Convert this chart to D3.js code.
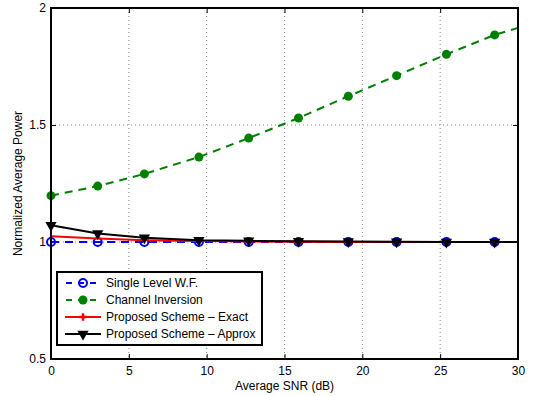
<!DOCTYPE html>
<html>
<head>
<meta charset="utf-8">
<script src="https://cdn.jsdelivr.net/npm/d3@7"></script>
<style>
  body { margin: 0; background: #fff; }
  text { font-family: "Liberation Sans", Arial, sans-serif; }
</style>
</head>
<body>
<div class="chart"></div>
<script>
// values
const snrDb = [0, 3, 6, 9.5, 12.7, 15.9, 19.1, 22.2, 25.4, 28.5, 30];
const singleLevelWF = [1, 1, 1, 1, 1, 1, 1, 1, 1, 1, 1];
const channelInversion = [1.198, 1.239, 1.291, 1.363, 1.444, 1.530, 1.623, 1.711, 1.802, 1.885, 1.915];
const proposedExact = [1.025, 1.015, 1.008, 1.004, 1.002, 1.001, 1.0, 1.0, 1.0, 1.0, 1.0];
const proposedApprox = [1.072, 1.036, 1.018, 1.008, 1.005, 1.003, 1.002, 1.001, 1.0, 1.0, 1.0];
const xTicks = [0, 5, 10, 15, 20, 25, 30];
const yTicks = [0.5, 1, 1.5, 2];
const seriesNames = ['Single Level W.F.', 'Channel Inversion', 'Proposed Scheme \u2013 Exact', 'Proposed Scheme \u2013 Approx'];

const W = 534, H = 396;
const pLeft = 51, pRight = 518, pTop = 8, pBottom = 359;
const fs = 12;

const svg = d3.select('.chart').append('svg')
  .attr('width', W).attr('height', H);

const x = d3.scaleLinear().domain([0, 30]).range([pLeft, pRight]);
const y = d3.scaleLinear().domain([0.5, 2]).range([pBottom, pTop]);

// grid
const grid = svg.append('g');
grid.selectAll('.gx').data(xTicks.slice(1, -1)).enter().append('line')
  .attr('x1', d => x(d)).attr('x2', d => x(d))
  .attr('y1', pTop).attr('y2', pBottom)
  .attr('stroke', '#888').attr('stroke-width', 1).attr('stroke-dasharray', '1,3');
grid.selectAll('.gy').data(yTicks.slice(1, -1)).enter().append('line')
  .attr('x1', pLeft).attr('x2', pRight)
  .attr('y1', d => y(d)).attr('y2', d => y(d))
  .attr('stroke', '#888').attr('stroke-width', 1).attr('stroke-dasharray', '1,3');

// axes
const xAxis = d3.axisBottom(x).tickValues(xTicks).tickSize(-5).tickPadding(7);
const yAxis = d3.axisLeft(y).tickValues(yTicks).tickSize(-5).tickPadding(5)
  .tickFormat(d3.format('~g'));
const gx = svg.append('g').attr('transform', `translate(0,${pBottom})`).call(xAxis);
const gy = svg.append('g').attr('transform', `translate(${pLeft},0)`).call(yAxis);
[gx, gy].forEach(g => {
  g.select('.domain').remove();
  g.selectAll('.tick line').attr('stroke', '#000');
  g.selectAll('text').attr('font-size', fs).attr('fill', '#000')
    .style('font-family', '"Liberation Sans", Arial, sans-serif');
});
svg.append('g').attr('transform', `translate(0,${pTop})`)
  .call(d3.axisTop(x).tickValues(xTicks).tickSize(-5).tickFormat(''))
  .call(g => { g.select('.domain').remove(); g.selectAll('line').attr('stroke', '#000'); });
svg.append('g').attr('transform', `translate(${pRight},0)`)
  .call(d3.axisRight(y).tickValues(yTicks).tickSize(-5).tickFormat(''))
  .call(g => { g.select('.domain').remove(); g.selectAll('line').attr('stroke', '#000'); });

// series
const line = d3.line().x((d, i) => x(snrDb[i])).y(d => y(d));
const markIdx = d3.range(snrDb.length - 1);
const plot = svg.append('g');

function drawLine(vals, color, dash) {
  plot.append('path').datum(vals)
    .attr('d', line).attr('fill', 'none')
    .attr('stroke', color).attr('stroke-width', 2)
    .attr('stroke-dasharray', dash);
}

drawLine(singleLevelWF, '#0000ff', '8,6');
plot.selectAll('.c1').data(markIdx).enter().append('circle')
  .attr('cx', i => x(snrDb[i])).attr('cy', i => y(singleLevelWF[i]))
  .attr('r', 4).attr('fill', 'none').attr('stroke', '#0000ff').attr('stroke-width', 2);

drawLine(channelInversion, '#008000', '8,6');
plot.selectAll('.c2').data(markIdx).enter().append('circle')
  .attr('cx', i => x(snrDb[i])).attr('cy', i => y(channelInversion[i]))
  .attr('r', 4.5).attr('fill', '#008000');

drawLine(proposedExact, '#ff0000', null);

drawLine(proposedApprox, '#000000', null);
const tri = d3.symbol().type(d3.symbolTriangle).size(55);
plot.selectAll('.c4').data(markIdx).enter().append('path')
  .attr('d', tri)
  .attr('transform', i => `translate(${x(snrDb[i])},${y(proposedApprox[i])}) rotate(180)`)
  .attr('fill', '#000');

// frame
svg.append('rect').attr('x', pLeft).attr('y', pTop)
  .attr('width', pRight - pLeft).attr('height', pBottom - pTop)
  .attr('fill', 'none').attr('stroke', '#000').attr('stroke-width', 2);

// labels
svg.append('text').attr('x', (pLeft + pRight) / 2).attr('y', 390)
  .attr('text-anchor', 'middle').attr('font-size', fs).text('Average SNR (dB)');
svg.append('text').attr('transform', `translate(22,${(pTop + pBottom) / 2}) rotate(-90)`)
  .attr('text-anchor', 'middle').attr('font-size', fs).text('Normalized Average Power');

// legend
const lg = svg.append('g');
lg.append('rect').attr('x', 57).attr('y', 272).attr('width', 205).attr('height', 73)
  .attr('fill', '#fff').attr('stroke', '#000').attr('stroke-width', 2);
const rows = [283, 300, 317, 334];
const styles = [
  { c: '#0000ff', dash: '8,6' },
  { c: '#008000', dash: '8,6' },
  { c: '#ff0000', dash: null },
  { c: '#000000', dash: null }
];
rows.forEach((ry, k) => {
  lg.append('line').attr('x1', 65).attr('x2', 101).attr('y1', ry).attr('y2', ry)
    .attr('stroke', styles[k].c).attr('stroke-width', 2).attr('stroke-dasharray', styles[k].dash ? '6,6' : null)
    .attr('stroke-dashoffset', styles[k].dash ? -1 : null);
  lg.append('text').attr('x', 106).attr('y', ry + 4).attr('font-size', fs).text(seriesNames[k]);
});
lg.append('circle').attr('cx', 83).attr('cy', rows[0]).attr('r', 4)
  .attr('fill', 'none').attr('stroke', '#0000ff').attr('stroke-width', 2);
lg.append('circle').attr('cx', 83).attr('cy', rows[1]).attr('r', 4.5).attr('fill', '#008000');
lg.append('path').attr('d', d3.symbol().type(d3.symbolCross).size(30))
  .attr('transform', `translate(83,${rows[2]})`).attr('fill', '#ff0000');
lg.append('path').attr('d', tri)
  .attr('transform', `translate(83,${rows[3]}) rotate(180)`).attr('fill', '#000');
</script>
</body>
</html>
